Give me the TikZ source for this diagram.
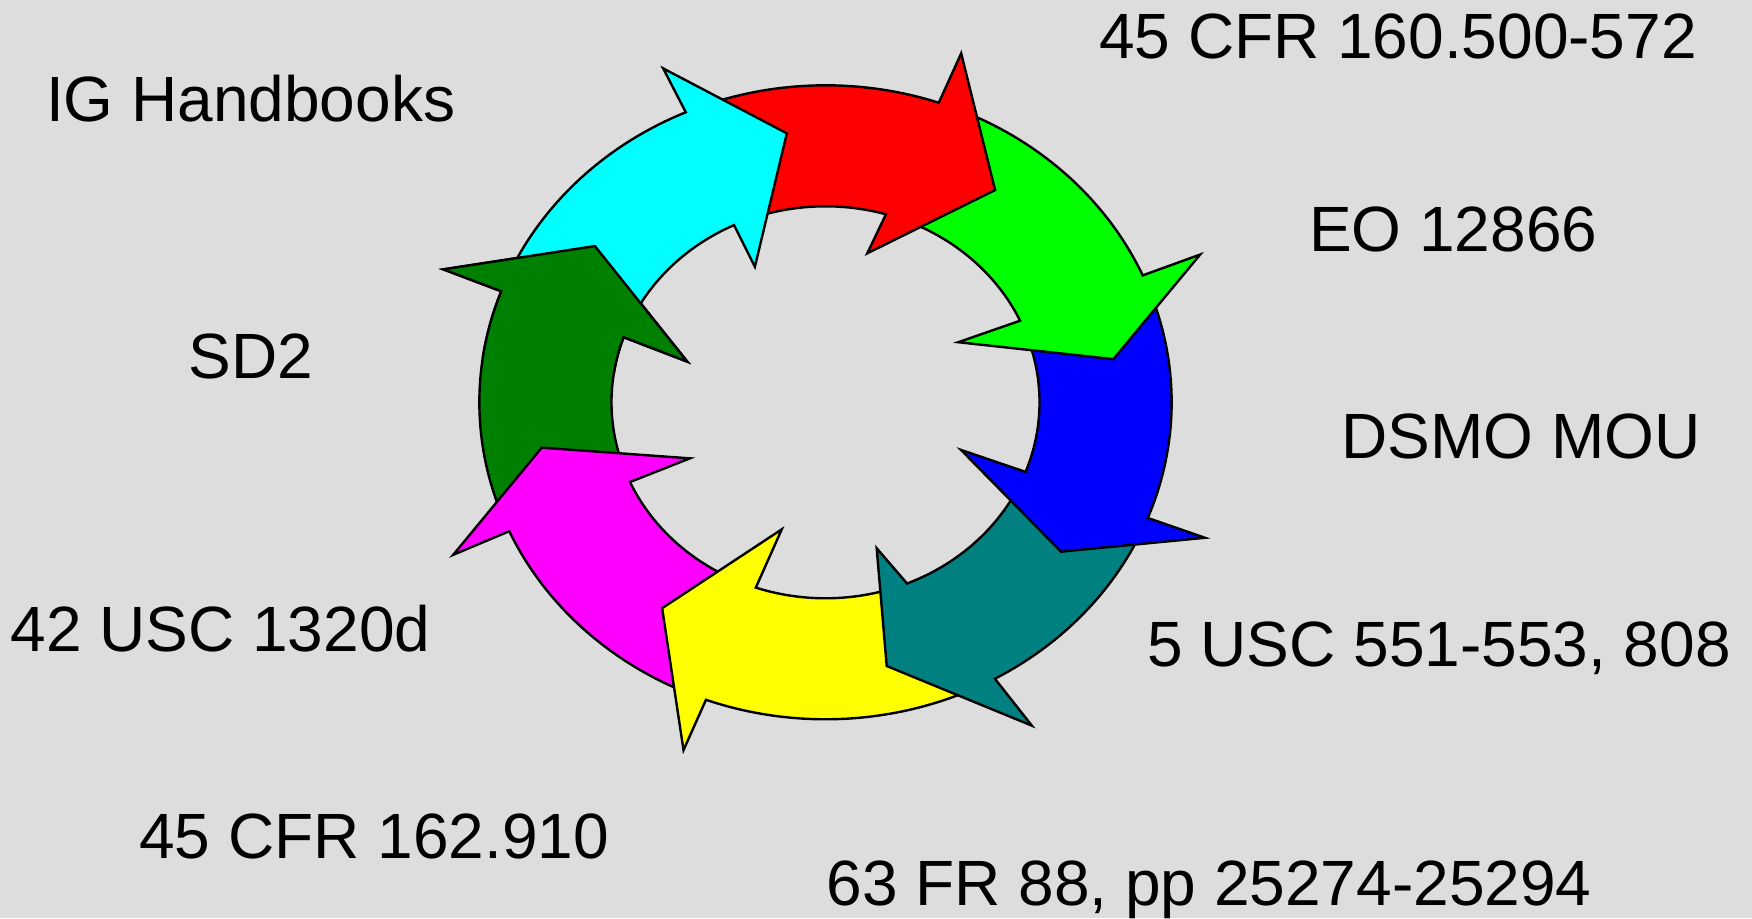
\documentclass[tikz,border=0pt]{standalone}
\usepackage{fontspec}
\setmainfont{Liberation Sans}
\definecolor{bgC}{HTML}{DDDDDD}
\definecolor{cyanC}{HTML}{00FFFF}
\definecolor{redC}{HTML}{FF0000}
\definecolor{greenC}{HTML}{00FF00}
\definecolor{blueC}{HTML}{0000FF}
\definecolor{tealC}{HTML}{008080}
\definecolor{yellowC}{HTML}{FFFF00}
\definecolor{magentaC}{HTML}{FF00FF}
\definecolor{dgreenC}{HTML}{008000}
\begin{document}
\begin{tikzpicture}[x=0.5pt,y=0.5pt,
  ringarrow/.style={draw=black, line width=1.2pt, line join=miter, miter limit=10},
  lbl/.style={anchor=base, inner sep=0pt, font=\fontsize{32}{38}\selectfont}]
\fill[bgC] (0,0) rectangle (1752,918);
\useasboundingbox (0,0) rectangle (1752,918);
\def\Ro{317}
\def\Ri{196}
\newcommand\dgreenpath{(-159:\Ro) arc[start angle=-159, end angle=-200.5, radius=\Ro] -- (-200.8:374.4) -- (-216.5:262.7) -- (-197.8:132.9) -- (-199.4:\Ri) arc[start angle=-199.4, end angle=-159, radius=\Ri] -- cycle}
\begin{scope}[shift={(825.5,515.7)}, xscale=1.092]
  % dark green
  \path[ringarrow, fill=dgreenC] \dgreenpath;
  % magenta
  \path[ringarrow, fill=magentaC] (-113.2:\Ro) arc[start angle=-113.2, end angle=-156, radius=\Ro] -- (-155.9:373.5) -- (-170.1:263.8) -- (-155.7:136.2) -- (-156:\Ri) arc[start angle=-156, end angle=-112, radius=\Ri] -- cycle;
  % yellow
  \path[ringarrow, fill=yellowC] (-63.7:\Ro) arc[start angle=-63.7, end angle=-110.2, radius=\Ro] -- (-110.5:371.3) -- (-126:254.5) -- (-107.5:133.2) -- (-109:\Ri) arc[start angle=-109, end angle=-70.6, radius=\Ri] -- cycle;
  % teal
  \path[ringarrow, fill=tealC] (-24.4:\Ro) arc[start angle=-24.4, end angle=-60.7, radius=\Ro] -- (-59.7:374.5) -- (-78:269.6) -- (-72.2:153.3) -- (-67.6:\Ri) arc[start angle=-67.6, end angle=-23.8, radius=\Ri] -- cycle;
  % blue
  \path[ringarrow, fill=blueC] (20.6:\Ro) arc[start angle=20.6, end angle=-21.4, radius=\Ro] -- (-21.3:373) -- (-34.7:262.4) -- (-21:132.9) -- (-20.8:\Ri) arc[start angle=-20.8, end angle=21.6, radius=\Ri] -- cycle;
  % green
  \path[ringarrow, fill=greenC] (67.9:\Ro) arc[start angle=67.9, end angle=23.6, radius=\Ro] -- (23.3:373.6) -- (9.3:267.1) -- (26.3:135.6) -- (24.6:\Ri) arc[start angle=24.6, end angle=70.6, radius=\Ri] -- cycle;
  % red
  \path[ringarrow, fill=redC] (110.8:\Ro) arc[start angle=110.8, end angle=70.9, radius=\Ro] -- (70.4:370.4) -- (53.8:263) -- (75.6:153.8) -- (73.6:\Ri) arc[start angle=73.6, end angle=112.3, radius=\Ri] -- cycle;
  % cyan
  \path[ringarrow, fill=cyanC] (156.5:\Ro) arc[start angle=156.5, end angle=113.8, radius=\Ro] -- (114:365.5) -- (97.5:271.3) -- (115.5:150.2) -- (115.3:\Ri) arc[start angle=115.3, end angle=157.6, radius=\Ri] -- cycle;
  % dark green head again, over the cyan tail
  \begin{scope}
    \clip (0,0) -- (132:460) -- (172:460) -- cycle;
    \path[ringarrow, fill=dgreenC] \dgreenpath;
  \end{scope}
\end{scope}
\node[lbl] (t1) at (1398,859.7) {45 CFR 160.500-572};
\node[lbl] (t2) at (250.7,796.3) {IG Handbooks};
\node[lbl] (t3) at (1453.2,667) {EO 12866};
\node[lbl] (t4) at (250.9,539.7) {SD2};
\node[lbl] (t5) at (1520.9,459.7) {DSMO MOU};
\node[lbl] (t6) at (220.5,267) {42 USC 1320d};
\node[lbl] (t7) at (1439,251.3) {5 USC 551-553, 808};
\node[lbl] (t8) at (374.2,59.7) {45 CFR 162.910};
\node[lbl] (t9) at (1209,13) {63 FR 88, pp 25274-25294};
\end{tikzpicture}
\end{document}
